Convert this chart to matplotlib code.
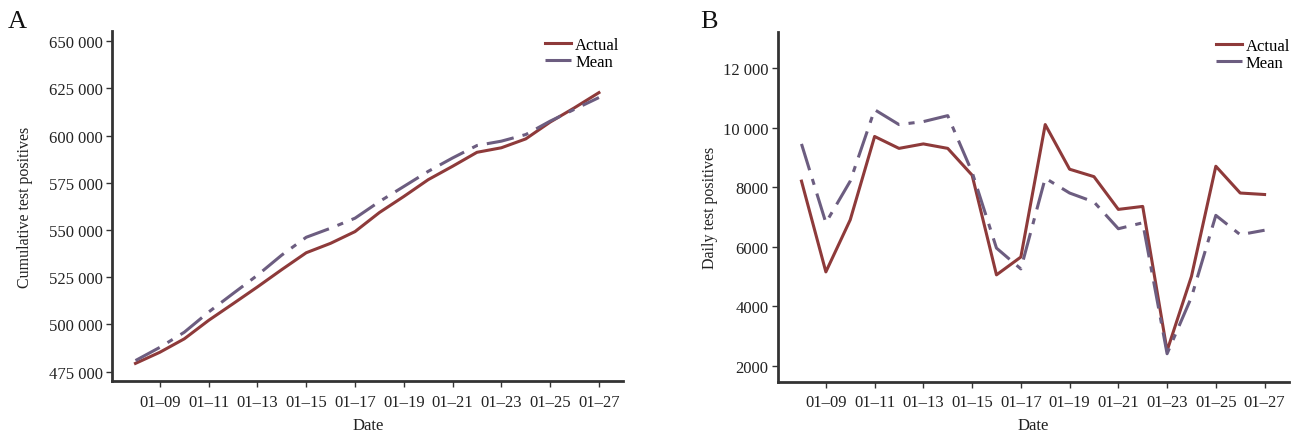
import numpy as np
import matplotlib
matplotlib.use("Agg")
import matplotlib.pyplot as plt

plt.rcParams['font.family'] = ['Liberation Serif', 'DejaVu Serif']

# 데이터
days = list(range(8, 28))
tick_days = list(range(9, 28, 2))
tick_labels = [f"01\u2013{d:02d}" for d in tick_days]

cum_actual = [479400, 485300, 492400, 502200, 511000, 519900, 529100, 538000, 543000, 549200,
              559300, 567800, 576700, 583800, 591200, 593600, 598300, 607200, 614800, 622800]
cum_mean = [480900, 487900, 495900, 506600, 516400, 526100, 536800, 546200, 551000, 556300,
            565100, 573100, 581100, 588200, 594800, 597100, 600600, 607700, 614000, 620200]

daily_actual = [8200, 5150, 6900, 9700, 9300, 9450, 9300, 8400, 5050, 5650,
                10100, 8600, 8350, 7250, 7350, 2500, 5000, 8700, 7800, 7750]
daily_mean = [9450, 6800, 8200, 10600, 10100, 10200, 10400, 8500, 5950, 5250,
              8300, 7800, 7500, 6600, 6800, 2400, 4300, 7050, 6400, 6550]

cum_ticks = [475000, 500000, 525000, 550000, 575000, 600000, 625000, 650000]
cum_tick_labels = ["475 000", "500 000", "525 000", "550 000", "575 000", "600 000", "625 000", "650 000"]
daily_ticks = [2000, 4000, 6000, 8000, 10000, 12000]
daily_tick_labels = ["2000", "4000", "6000", "8000", "10 000", "12 000"]

RED = '#8e3a3a'
PURPLE = '#6c5d80'
SPINE = '#333333'
MEAN_DASH = (0, (9, 3, 2, 3))

fig = plt.figure(figsize=(12.94, 4.35), dpi=100)
ax1 = fig.add_axes([0.0868, 0.1211, 0.3949, 0.806])
ax2 = fig.add_axes([0.6015, 0.1202, 0.3946, 0.8046])


def style_axis(ax, yticks, ylabels, ylabel, ypad, leg_x):
    for s in ['top', 'right']:
        ax.spines[s].set_visible(False)
    for s in ['left', 'bottom']:
        ax.spines[s].set_color(SPINE)
        ax.spines[s].set_linewidth(2.0)
    ax.set_xlim(7.05, 28)
    ax.set_xticks(tick_days)
    ax.set_xticklabels(tick_labels)
    ax.set_yticks(yticks)
    ax.set_yticklabels(ylabels)
    ax.tick_params(axis='both', direction='out', length=4, width=1, color=SPINE,
                   labelsize=12, labelcolor='#222222', pad=3)
    ax.tick_params(axis='x', pad=5)
    ax.set_xlabel("Date", fontsize=12, labelpad=5, color='#222222')
    ax.set_ylabel(ylabel, fontsize=11.5, labelpad=ypad, color='#222222')
    leg = ax.legend(loc='upper right', bbox_to_anchor=(leg_x, 1.012), frameon=False,
                    fontsize=12, handlelength=1.55, handletextpad=0.25,
                    labelspacing=0.1, borderaxespad=0.2)
    return leg


ax1.plot(days, cum_actual, color=RED, lw=2.2, label='Actual')
ax1.plot(days, cum_mean, color=PURPLE, lw=2.2, linestyle=MEAN_DASH, label='Mean')
ax1.set_ylim(469900, 655600)
style_axis(ax1, cum_ticks, cum_tick_labels, "Cumulative test positives", 11.5, 1.012)

ax2.plot(days, daily_actual, color=RED, lw=2.2, label='Actual')
ax2.plot(days, daily_mean, color=PURPLE, lw=2.2, linestyle=MEAN_DASH, label='Mean')
ax2.set_ylim(1460, 13220)
style_axis(ax2, daily_ticks, daily_tick_labels, "Daily test positives", 4, 1.022)

fig.text(0.006, 0.975, "A", fontsize=19, va='top', ha='left', color='#111111')
fig.text(0.541, 0.975, "B", fontsize=19, va='top', ha='left', color='#111111')

plt.savefig("out.png", dpi=100)
plt.close()
